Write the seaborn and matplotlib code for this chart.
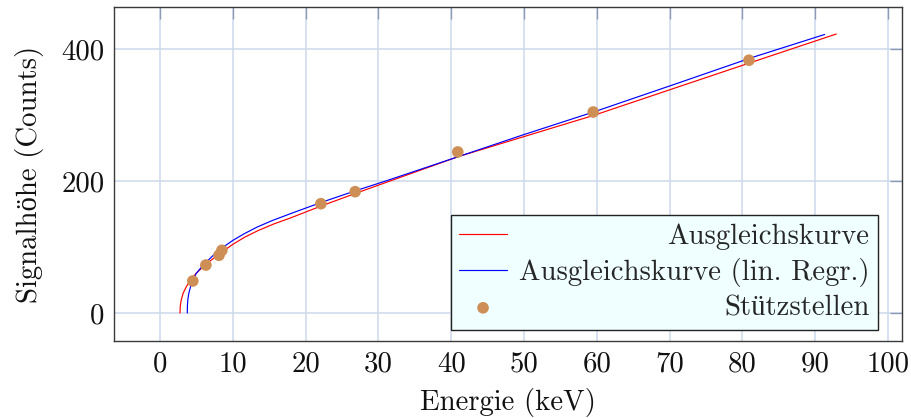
import numpy as np
import pandas as pd
import matplotlib
matplotlib.use("Agg")
import matplotlib.pyplot as plt
import seaborn as sns

# Stützstellen: Energie der Linien und gemessene Signalhöhe
energie_keV = [4.5, 6.3, 8.1, 8.5, 22.1, 26.8, 40.9, 59.5, 80.9]
signal_counts = [48.5, 72.7, 87.5, 95.0, 165.6, 183.8, 244.0, 304.5, 383.0]

# Ausgleichskurve (nichtlinearer Fit), abgetastet: Signalhöhe und Energie
kurve_counts = [0, 10, 20, 30, 40, 50, 60, 73, 90, 104.5, 115, 125, 135, 143.5,
                162, 181, 200, 237, 270, 299.5, 340, 380, 422.7]
kurve_keV = [2.75, 2.78, 2.92, 3.18, 3.62, 4.20, 4.95, 6.20, 8.20, 10.07, 11.65,
             13.5, 15.65, 17.8, 22.1, 26.8, 31.6, 41.0, 50.8, 59.6, 70.5, 81.3, 92.9]

# Ausgleichskurve (lineare Regression), abgetastet
linreg_counts = [0, 10, 20, 30, 40, 50, 60, 73, 90, 100, 110, 120, 130, 140,
                 150, 167, 185, 200, 237, 270, 304.7, 350, 387, 422]
linreg_keV = [3.75, 3.76, 3.82, 3.96, 4.20, 4.52, 4.98, 5.95, 7.57, 8.70, 10.0,
              11.55, 13.3, 15.4, 17.8, 22.0, 26.8, 31.0, 41.0, 49.9, 59.6, 71.6,
              81.3, 91.3]

x_ticks = [0, 10, 20, 30, 40, 50, 60, 70, 80, 90, 100]
y_ticks = [0, 200, 400]

df_nl = pd.DataFrame({"E": kurve_keV, "C": kurve_counts})
df_lr = pd.DataFrame({"E": linreg_keV, "C": linreg_counts})
df_pts = pd.DataFrame({"E": energie_keV, "C": signal_counts})

sns.set_theme(style="white")
plt.rcParams["font.family"] = ["cmr10", "Liberation Serif"]
plt.rcParams["mathtext.fontset"] = "cm"
plt.rcParams["axes.formatter.use_mathtext"] = True
plt.rcParams["axes.unicode_minus"] = False

FS = 20.7
fig = plt.figure(figsize=(9.12, 4.18), dpi=100)
ax = fig.add_axes([114 / 912, 1 - 341 / 418, 788 / 912, 334 / 418])

grid_col = "#cdd8ec"
for xv in x_ticks:
    ax.axvline(xv, color=grid_col, lw=1.1, zorder=0)
for yv in y_ticks:
    ax.axhline(yv, color=grid_col, lw=1.1, zorder=0)

sns.lineplot(data=df_nl, x="E", y="C", sort=False, estimator=None, color="#ff0000",
             lw=0.85, label="Ausgleichskurve", ax=ax, zorder=3,
             solid_joinstyle="round")
sns.lineplot(data=df_lr, x="E", y="C", sort=False, estimator=None, color="#0000ff",
             lw=0.85, label="Ausgleichskurve (lin. Regr.)", ax=ax, zorder=3,
             solid_joinstyle="round")
sns.scatterplot(data=df_pts, x="E", y="C", color="#cd8f55", s=70, edgecolor="none",
                linewidth=0, label="Stützstellen", ax=ax, zorder=4)

ax.set_xlim(-6.32, 101.92)
ax.set_ylim(-42.4, 463.6)
ax.set_xticks(x_ticks)
ax.set_yticks(y_ticks)
ax.set_xticklabels([str(t) for t in x_ticks])
ax.set_yticklabels([str(t) for t in y_ticks])
ax.tick_params(axis="both", which="major", direction="in", length=8.5, width=1.0,
               color="#8c9ab3", labelsize=FS, top=True, right=True, pad=7,
               labelcolor="#111111")
for sp in ax.spines.values():
    sp.set_color("#3a3a3a")
    sp.set_linewidth(1.0)
    sp.set_zorder(5)

ax.set_xlabel("Energie (keV)", fontsize=FS, labelpad=8, color="#111111")
ax.set_ylabel("Signalhöhe (Counts)", fontsize=FS, labelpad=12, color="#111111")

leg = ax.legend(loc="lower right", bbox_to_anchor=(0.9695, 0.033), borderaxespad=0,
                frameon=True, fancybox=False, edgecolor="#222222", facecolor="#f0ffff",
                framealpha=1, fontsize=FS, handlelength=1.65, handletextpad=0.42,
                borderpad=0.3, labelspacing=0.28, scatterpoints=1)
leg.get_frame().set_linewidth(1.0)
leg.set_zorder(6)

# Beschriftungen in der Legende rechtsbündig setzen
fig.canvas.draw()
renderer = fig.canvas.get_renderer()
column = leg._legend_handle_box.get_children()[0]
rows = column.get_children()
width = max(r.get_bbox(renderer).width for r in rows)
for r in rows:
    r.mode = "expand"
column.width = width

fig.savefig("out.png", dpi=100)
